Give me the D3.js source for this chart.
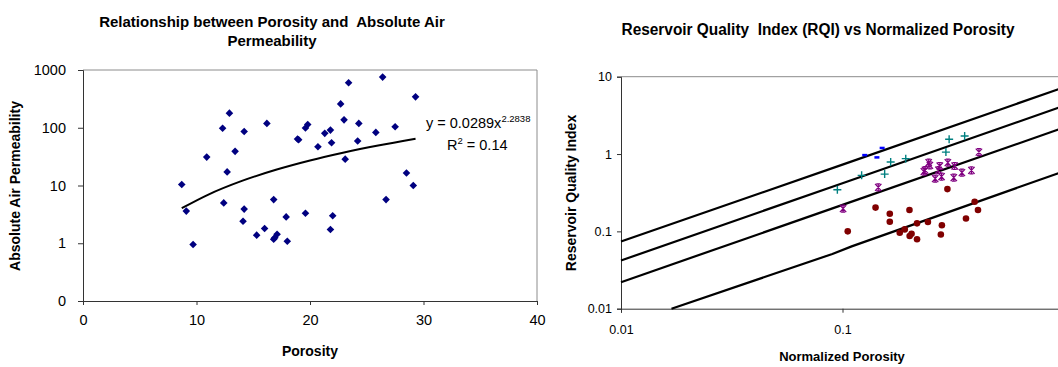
<!DOCTYPE html>
<html>
<head>
<meta charset="utf-8">
<script src="https://cdn.jsdelivr.net/npm/d3@7"></script>
<style>
  body { margin: 0; background: #fff; }
  svg { display: block; font-family: "Liberation Sans", Arial, sans-serif; }
</style>
</head>
<body>
<svg></svg>
<script>
// left chart: porosity vs permeability
const porosity = [8.7, 9.1, 9.7, 10.9, 12.3, 12.4, 12.9, 12.7, 13.4, 14.2, 14.2, 14.1, 15.3, 16.0, 16.2, 16.8, 16.8, 17.1, 16.9,
  17.9, 18.0, 18.9, 19.0, 19.6, 19.6, 19.8, 20.7, 21.3, 21.8, 21.9, 21.8, 22.0, 22.7, 23.0, 23.1, 23.4, 24.2, 24.3,
  25.8, 26.4, 26.7, 27.5, 28.5, 29.1, 29.3]
const permeability = [10.4, 3.6, 0.95, 31, 98, 5.0, 179, 17.2, 39, 86, 3.9, 2.4, 1.38, 1.8, 119, 5.7, 1.17, 1.43, 1.25,
  2.86, 1.08, 64, 62, 3.3, 99, 114, 47, 80, 91, 55, 1.73, 3.0, 259, 137, 28.6, 600, 59, 119,
  83, 753, 5.7, 104, 16.5, 10, 343]
const trendX = [8.7, 11, 14, 17, 20, 23, 26, 29.3]
const trendY = [4.04, 6.9, 12.0, 18.7, 27.1, 37.2, 49.2, 64.7]
const porTicks = [0, 10, 20, 30, 40]
const permTicks = [0.1, 1, 10, 100, 1000]
const permTickLabels = ['0', '1', '10', '100', '1000']

// right chart: RQI vs normalized porosity
const blueX = [0.126, 0.151, 0.143]
const blueY = [0.97, 1.2, 0.906]
const tealX = [0.0948, 0.122, 0.155, 0.165, 0.193, 0.303, 0.293, 0.356]
const tealY = [0.346, 0.53, 0.55, 0.788, 0.872, 1.55, 1.06, 1.71]
const purpleX = [0.1006, 0.145, 0.233, 0.236, 0.245, 0.248, 0.262, 0.271, 0.275, 0.28, 0.299, 0.318, 0.321, 0.346, 0.382, 0.413]
const purpleY = [0.197, 0.371, 0.592, 0.62, 0.774, 0.714, 0.48, 0.62, 0.7, 0.51, 0.774, 0.495, 0.7, 0.574, 0.615, 1.06]
const redX = [0.1056, 0.141, 0.1635, 0.1635, 0.2006, 0.1813, 0.191, 0.201, 0.205, 0.217, 0.217, 0.243, 0.281, 0.278, 0.2976, 0.361, 0.395, 0.409]
const redY = [0.1, 0.203, 0.169, 0.133, 0.189, 0.096, 0.106, 0.087, 0.093, 0.079, 0.127, 0.132, 0.12, 0.091, 0.352, 0.147, 0.242, 0.189]
const fziLines = [
  { x: [0.01, 0.1, 1], y: [0.074, 0.73, 7.3] },
  { x: [0.01, 0.1, 1], y: [0.042, 0.42, 4.2] },
  { x: [0.01, 0.1, 1], y: [0.022, 0.22, 2.2] },
  { x: [0.0169, 0.09, 0.11, 1], y: [0.01, 0.051, 0.064, 0.6] }
]
const rqiTicks = [0.01, 0.1, 1, 10]
const rqiTickLabels = ['0.01', '0.1', '1', '10']
const phiTicks = [0.01, 0.1]
const phiTickLabels = ['0.01', '0.1']

const width = 1058, height = 367
const svg = d3.select('svg').attr('width', width).attr('height', height)

// ---------- left ----------
const xL = d3.scaleLinear().domain([0, 40]).range([83, 537])
const yL = d3.scaleLog().domain([0.1, 1000]).range([301, 70])

const left = svg.append('g')

left.append('line').attr('x1', 83).attr('x2', 537).attr('y1', 70).attr('y2', 70).attr('stroke', '#8c8c8c')
left.append('line').attr('x1', 537).attr('x2', 537).attr('y1', 70).attr('y2', 301).attr('stroke', '#8c8c8c')

const xAxisL = d3.axisBottom(xL).tickValues(porTicks).tickFormat(d3.format('d')).tickSize(4).tickPadding(10)
const yAxisL = d3.axisLeft(yL).tickValues(permTicks).tickFormat((d, i) => permTickLabels[i]).tickSize(5).tickPadding(12)

left.append('g').attr('transform', 'translate(0,301)').call(xAxisL)
left.append('g').attr('transform', 'translate(83,0)').call(yAxisL)

left.selectAll('.domain, .tick line').attr('stroke', '#333')
left.selectAll('.tick text').attr('font-size', 14.5).attr('fill', '#000').attr('font-family', '"Liberation Sans", Arial, sans-serif')

const diamond = 'M0,-3.8L3.8,0L0,3.8L-3.8,0Z'
left.selectAll('path.pt')
  .data(porosity)
  .enter().append('path')
    .attr('class', 'pt')
    .attr('d', diamond)
    .attr('transform', (d, i) => `translate(${xL(d)},${yL(permeability[i])})`)
    .attr('fill', '#000080')

const trendLine = d3.line()
  .x((d, i) => xL(d))
  .y((d, i) => yL(trendY[i]))
  .curve(d3.curveMonotoneX)

left.append('path')
  .attr('d', trendLine(trendX))
  .attr('fill', 'none')
  .attr('stroke', '#000')
  .attr('stroke-width', 2)

const eq = left.append('text').attr('x', 426).attr('y', 128).attr('font-size', 14.5)
eq.append('tspan').text('y = 0.0289x')
eq.append('tspan').attr('dy', -6).attr('font-size', 9.5).text('2.2838')
const r2 = left.append('text').attr('x', 447).attr('y', 150).attr('font-size', 14.5)
r2.append('tspan').text('R')
r2.append('tspan').attr('dy', -6).attr('font-size', 9.5).text('2')
r2.append('tspan').attr('dy', 6).text(' = 0.14')

left.append('text')
  .attr('x', 272).attr('y', 27)
  .attr('text-anchor', 'middle').attr('font-size', 15).attr('font-weight', 'bold')
  .attr('xml:space', 'preserve')
  .text('Relationship between Porosity and  Absolute Air')
left.append('text')
  .attr('x', 272).attr('y', 46)
  .attr('text-anchor', 'middle').attr('font-size', 15).attr('font-weight', 'bold')
  .text('Permeability')
left.append('text')
  .attr('x', 310).attr('y', 356)
  .attr('text-anchor', 'middle').attr('font-size', 14).attr('font-weight', 'bold')
  .text('Porosity')
left.append('text')
  .attr('transform', 'translate(20,186) rotate(-90)')
  .attr('text-anchor', 'middle').attr('font-size', 14).attr('font-weight', 'bold')
  .text('Absolute Air Permeability')

// ---------- right ----------
const xR = d3.scaleLog().domain([0.01, 1]).range([621, 1064])
const yR = d3.scaleLog().domain([0.01, 10]).range([308.7, 76.7])

const right = svg.append('g')

right.append('line').attr('x1', 621).attr('x2', 1064).attr('y1', 76.7).attr('y2', 76.7).attr('stroke', '#8c8c8c')

const xAxisR = d3.axisBottom(xR).tickValues(phiTicks).tickFormat((d, i) => phiTickLabels[i]).tickSize(4).tickPadding(12)
const yAxisR = d3.axisLeft(yR).tickValues(rqiTicks).tickFormat((d, i) => rqiTickLabels[i]).tickSize(4).tickPadding(5)

right.append('g').attr('transform', 'translate(0,308.7)').call(xAxisR)
right.append('g').attr('transform', 'translate(621,0)').call(yAxisR)

right.selectAll('.domain, .tick line').attr('stroke', '#333')
right.selectAll('.tick text').attr('font-size', 12.5).attr('fill', '#000').attr('font-family', '"Liberation Sans", Arial, sans-serif')

const fziLine = d3.line()
  .x(d => xR(d[0]))
  .y(d => yR(d[1]))

right.selectAll('path.fzi')
  .data(fziLines)
  .enter().append('path')
    .attr('class', 'fzi')
    .attr('d', d => fziLine(d.x.map((v, i) => [v, d.y[i]])))
    .attr('fill', 'none')
    .attr('stroke', '#000')
    .attr('stroke-width', 2.2)

right.selectAll('circle.red')
  .data(redX)
  .enter().append('circle')
    .attr('class', 'red')
    .attr('cx', d => xR(d))
    .attr('cy', (d, i) => yR(redY[i]))
    .attr('r', 3.3)
    .attr('fill', '#800000')

const star = 'M-3.2,-3.5L3.2,3.5M3.2,-3.5L-3.2,3.5M0,-3.5V3.5M-2,-3.5H2M-2,3.5H2'
right.selectAll('path.purple')
  .data(purpleX)
  .enter().append('path')
    .attr('class', 'purple')
    .attr('d', star)
    .attr('transform', (d, i) => `translate(${xR(d)},${yR(purpleY[i])})`)
    .attr('fill', 'none')
    .attr('stroke', '#800080')
    .attr('stroke-width', 1.2)

const plus = 'M-4,0H4M0,-4V4'
right.selectAll('path.teal')
  .data(tealX)
  .enter().append('path')
    .attr('class', 'teal')
    .attr('d', plus)
    .attr('transform', (d, i) => `translate(${xR(d)},${yR(tealY[i])})`)
    .attr('stroke', '#008080')
    .attr('stroke-width', 1.4)

right.selectAll('rect.blue')
  .data(blueX)
  .enter().append('rect')
    .attr('class', 'blue')
    .attr('x', d => xR(d) - 2.5)
    .attr('y', (d, i) => yR(blueY[i]) - 1.2)
    .attr('width', 5)
    .attr('height', 2.5)
    .attr('fill', '#0000ff')

right.append('text')
  .attr('x', 818).attr('y', 35)
  .attr('text-anchor', 'middle').attr('font-size', 16).attr('font-weight', 'bold')
  .attr('font-family', '"Liberation Sans Narrow", "Arial Narrow", "Liberation Sans", sans-serif')
  .attr('textLength', 393).attr('lengthAdjust', 'spacingAndGlyphs')
  .attr('xml:space', 'preserve')
  .text('Reservoir Quality  Index (RQI) vs Normalized Porosity')
right.append('text')
  .attr('x', 842).attr('y', 361)
  .attr('text-anchor', 'middle').attr('font-size', 13).attr('font-weight', 'bold')
  .text('Normalized Porosity')
right.append('text')
  .attr('transform', 'translate(576,193) rotate(-90)')
  .attr('text-anchor', 'middle').attr('font-size', 14).attr('font-weight', 'bold')
  .text('Reservoir Quality Index')
</script>
</body>
</html>
